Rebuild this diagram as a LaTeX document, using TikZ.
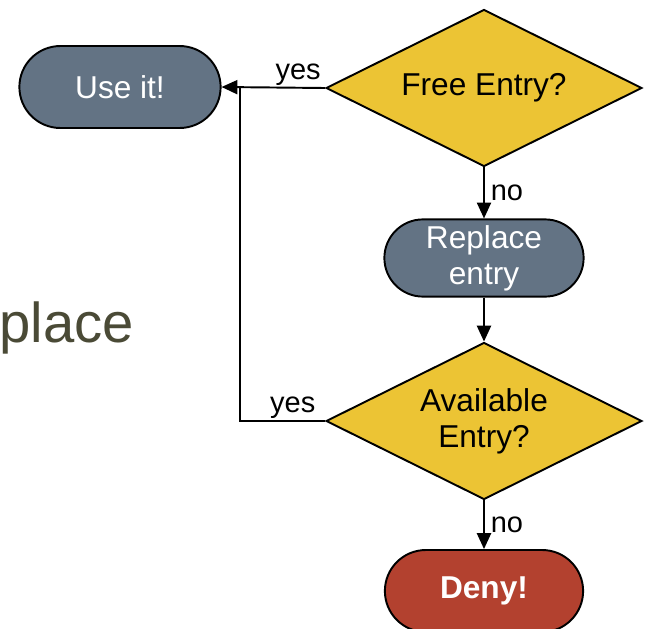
\documentclass[tikz,border=0pt]{standalone}
\usepackage{fontspec}
\setmainfont{Liberation Sans}
\usetikzlibrary{shapes.geometric,shapes.misc,arrows.meta}

\definecolor{slate}{HTML}{637384}
\definecolor{mustard}{HTML}{ECC434}
\definecolor{brick}{HTML}{B3412F}
\definecolor{olive}{HTML}{4A4A36}

\begin{document}
\begin{tikzpicture}[x=0.02cm, y=-0.02cm,
	pill/.style={rounded rectangle, draw=black, line width=1.1pt, fill=slate, text=white, align=center, minimum width=4.26cm, minimum height=1.64cm, font=\fontsize{18}{20.5}\selectfont},
	choice/.style={diamond, draw=black, line width=1.1pt, fill=mustard, align=center, inner sep=0pt, shape aspect=2, minimum width=6.32cm, minimum height=3.14cm, font=\fontsize{18}{20.5}\selectfont},
	flow/.style={line width=1.1pt, -{Triangle[length=9pt,width=8pt]}},
	link/.style={line width=1.1pt},
	tag/.style={font=\fontsize{16.5}{19}\selectfont}]
	
	\useasboundingbox (0,0) rectangle (650,629);
	
	\node[anchor=base west, inner sep=0pt, text=olive, font=\fontsize{32}{36}\selectfont] (place) at (-1,342) {place};
	
	\node[pill] (useit) at (120,87) {Use it!};
	\node[choice] (free) at (484,88) {Free Entry?};
	\node[pill, minimum width=4.22cm, minimum height=1.52cm] (replace) at (484,258) {Replace\\entry};
	\node[choice] (avail) at (484,421) {Available\\Entry?};
	\node[pill, fill=brick, minimum width=4.2cm, font=\fontsize{18}{20.5}\selectfont\bfseries] (deny) at (484,591) {Deny!};
	
	\coordinate (join) at (240,88);

	\draw[flow] (free.west) -- node[tag, pos=0.26, above, inner sep=1pt] {yes} (useit.east);
	\draw[flow] (free.south) -- node[tag, right] {no} (replace.north);
	\draw[flow] (replace.south) -- (avail.north);
	\draw[flow] (avail.south) -- node[tag, right] {no} (deny.north);
	\draw[link] (avail.west) -- node[tag, pos=0.38, above, inner sep=1pt] {yes} (avail.west -| join) -- (join);

\end{tikzpicture}
\end{document}
